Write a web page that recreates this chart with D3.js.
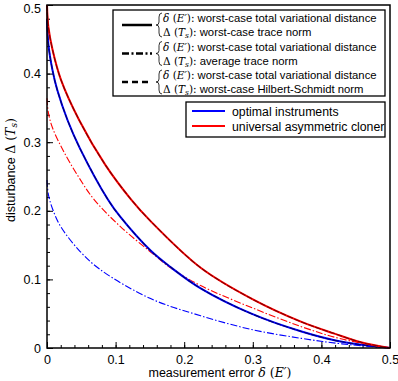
<!DOCTYPE html>
<html>
<head>
<meta charset="utf-8">
<script src="https://cdn.jsdelivr.net/npm/d3@7"></script>
<style>
  body { margin: 0; background: #fff; }
  text { font-family: "Liberation Sans", Arial, sans-serif; }
  .m { font-family: "DejaVu Serif", "Liberation Serif", serif; font-style: italic; }
  .mr { font-family: "DejaVu Serif", "Liberation Serif", serif; }
</style>
</head>
<body>
<div id="chart"></div>
<script>
const cloneSolidX = [0, 0.002, 0.008, 0.02, 0.047, 0.085, 0.123, 0.151, 0.224, 0.298, 0.371, 0.419, 0.459, 0.5]
const cloneSolidY = [0.5, 0.468, 0.435, 0.392, 0.332, 0.267, 0.216, 0.185, 0.117, 0.072, 0.038, 0.021, 0.008, 0]

const optSolidX = [0, 0.002, 0.008, 0.015, 0.030, 0.048, 0.089, 0.107, 0.151, 0.180, 0.224, 0.298, 0.371, 0.43, 0.5]
const optSolidY = [0.48, 0.443, 0.405, 0.376, 0.332, 0.291, 0.216, 0.191, 0.142, 0.118, 0.087, 0.05, 0.024, 0.009, 0]

const cloneAvgX = [0, 0.002, 0.008, 0.023, 0.045, 0.069, 0.107, 0.151, 0.18, 0.224, 0.298, 0.371, 0.43, 0.5]
const cloneAvgY = [0.364, 0.343, 0.321, 0.289, 0.251, 0.216, 0.177, 0.14, 0.117, 0.091, 0.059, 0.031, 0.013, 0]

const optAvgX = [0, 0.002, 0.008, 0.02, 0.048, 0.078, 0.151, 0.224, 0.298, 0.371, 0.43, 0.5]
const optAvgY = [0.245, 0.224, 0.203, 0.177, 0.141, 0.114, 0.072, 0.047, 0.027, 0.014, 0.006, 0]

const xTicks = [0, 0.1, 0.2, 0.3, 0.4, 0.5]
const yTicks = [0, 0.1, 0.2, 0.3, 0.4, 0.5]

const legendRows = [
  ["worst-case total variational distance", "worst-case trace norm"],
  ["worst-case total variational distance", "average trace norm"],
  ["worst-case total variational distance", "worst-case Hilbert-Schmidt norm"]
]
const legendDash = [null, "7,2.5,2,2.5", "6,4"]
const colorNames = ["optimal instruments", "universal asymmetric cloner"]
const colorList = ["#0000ff", "#ff0000"]

const W = 398, H = 381
const m = {left: 47, right: 8, top: 5, bottom: 33}

const svg = d3.select("#chart").append("svg")
  .attr("width", W).attr("height", H)

const x = d3.scaleLinear().domain([0, 0.5]).range([m.left, W - m.right])
const y = d3.scaleLinear().domain([0, 0.5]).range([H - m.bottom, m.top])

const fmt = d => d === 0 ? "0" : d3.format(".1f")(d)
const minor = d3.range(0, 0.5001, 0.02)

// minor ticks
svg.append("g")
  .attr("transform", `translate(0,${y(0)})`)
  .call(d3.axisBottom(x).tickValues(minor).tickSize(-3).tickFormat(""))
  .call(g => g.select(".domain").remove())
svg.append("g")
  .attr("transform", `translate(${x(0)},0)`)
  .call(d3.axisLeft(y).tickValues(minor).tickSize(-3).tickFormat(""))
  .call(g => g.select(".domain").remove())

// major ticks + labels
const xAx = svg.append("g")
  .attr("transform", `translate(0,${y(0)})`)
  .call(d3.axisBottom(x).tickValues(xTicks).tickSize(-6).tickPadding(7).tickFormat(fmt))
xAx.select(".domain").remove()
xAx.selectAll("text").attr("font-size", 12.5).attr("font-family", "Liberation Sans, Arial").attr("fill", "#000")

const yAx = svg.append("g")
  .attr("transform", `translate(${x(0)},0)`)
  .call(d3.axisLeft(y).tickValues(yTicks).tickSize(-6).tickPadding(6).tickFormat(fmt))
yAx.select(".domain").remove()
yAx.selectAll("text").attr("font-size", 12.5).attr("font-family", "Liberation Sans, Arial").attr("fill", "#000")
yAx.selectAll("text").filter(d => d === 0.5).attr("dy", "0.6em")

const line = d3.line().x(d => x(d[0])).y(d => y(d[1])).curve(d3.curveCatmullRom.alpha(0.5))
const pts = (a, b) => a.map((v, i) => [v, b[i]])

const plot = svg.append("g")

plot.append("path").attr("d", line(pts(optAvgX, optAvgY)))
  .attr("fill", "none").attr("stroke", "#0000ff").attr("stroke-width", 1.1)
  .attr("stroke-dasharray", "7,2,1.5,2")
plot.append("path").attr("d", line(pts(cloneAvgX, cloneAvgY)))
  .attr("fill", "none").attr("stroke", "#ff0000").attr("stroke-width", 1.1)
  .attr("stroke-dasharray", "7,2,1.5,2")

plot.append("path").attr("d", line(pts(optSolidX, optSolidY)))
  .attr("fill", "none").attr("stroke", "#0000ff").attr("stroke-width", 2)
plot.append("path").attr("d", line(pts(optSolidX, optSolidY)))
  .attr("fill", "none").attr("stroke", "#000070").attr("stroke-width", 1.1)
  .attr("stroke-dasharray", "6,1.5")

plot.append("path").attr("d", line(pts(cloneSolidX, cloneSolidY)))
  .attr("fill", "none").attr("stroke", "#ff0000").attr("stroke-width", 2)
plot.append("path").attr("d", line(pts(cloneSolidX, cloneSolidY)))
  .attr("fill", "none").attr("stroke", "#800000").attr("stroke-width", 1.1)
  .attr("stroke-dasharray", "6,1.5")

// frame
svg.append("rect")
  .attr("x", x(0)).attr("y", y(0.5))
  .attr("width", x(0.5) - x(0)).attr("height", y(0) - y(0.5))
  .attr("fill", "none").attr("stroke", "#000").attr("stroke-width", 1.5)

// legend 1
const lg = svg.append("g")
lg.append("rect").attr("x", 113).attr("y", 10).attr("width", 272).attr("height", 86)
  .attr("fill", "#fff").attr("stroke", "#000").attr("stroke-width", 1.3)

legendRows.forEach((r, i) => {
  const cy = 25 + i * 28.5
  lg.append("line").attr("x1", 122).attr("x2", 152).attr("y1", cy).attr("y2", cy)
    .attr("stroke", "#000").attr("stroke-width", 2.5)
    .attr("stroke-dasharray", legendDash[i])
  // brace
  const bx = 159
  lg.append("path")
    .attr("d", `M${bx + 3},${cy - 12} Q${bx},${cy - 12} ${bx},${cy - 8} L${bx},${cy - 3} Q${bx},${cy} ${bx - 3},${cy} Q${bx},${cy} ${bx},${cy + 3} L${bx},${cy + 8} Q${bx},${cy + 12} ${bx + 3},${cy + 12}`)
    .attr("fill", "none").attr("stroke", "#000").attr("stroke-width", 0.8)
  const t1 = lg.append("text").attr("x", 163).attr("y", cy - 3).attr("font-size", 11.3)
  t1.append("tspan").attr("class", "m").attr("font-size", 10.5).text("δ")
  t1.append("tspan").attr("class", "mr").attr("font-size", 10.5).text(" (")
  t1.append("tspan").attr("class", "m").attr("font-size", 10.5).text("E′")
  t1.append("tspan").attr("class", "mr").attr("font-size", 10.5).text("):")
  t1.append("tspan").text(" " + r[0])
  const t2 = lg.append("text").attr("x", 163).attr("y", cy + 11).attr("font-size", 11.3)
  t2.append("tspan").attr("class", "mr").attr("font-size", 10.5).text("Δ (")
  t2.append("tspan").attr("class", "m").attr("font-size", 10.5).text("T")
  t2.append("tspan").attr("class", "m").attr("font-size", 7.5).attr("dy", 2).text("s")
  t2.append("tspan").attr("class", "mr").attr("font-size", 10.5).attr("dy", -2).text("):")
  t2.append("tspan").text(" " + r[1])
})

// legend 2
const lg2 = svg.append("g")
lg2.append("rect").attr("x", 186).attr("y", 102).attr("width", 199).attr("height", 35)
  .attr("fill", "#fff").attr("stroke", "#000").attr("stroke-width", 1.3)
colorNames.forEach((n, i) => {
  const cy = 111 + i * 15
  lg2.append("line").attr("x1", 192).attr("x2", 225).attr("y1", cy).attr("y2", cy)
    .attr("stroke", colorList[i]).attr("stroke-width", 2)
  lg2.append("text").attr("x", 232).attr("y", cy + 4.5).attr("font-size", 12.3).text(n)
})

// axis titles
const xt = svg.append("text").attr("x", 220).attr("y", 377).attr("text-anchor", "middle").attr("font-size", 12.5)
xt.append("tspan").text("measurement error ")
xt.append("tspan").attr("class", "m").text("δ")
xt.append("tspan").attr("class", "mr").text(" (")
xt.append("tspan").attr("class", "m").text("E′")
xt.append("tspan").attr("class", "mr").text(")")

const yt = svg.append("text").attr("transform", "translate(15,170) rotate(-90)")
  .attr("text-anchor", "middle").attr("font-size", 12.5)
yt.append("tspan").text("disturbance ")
yt.append("tspan").attr("class", "mr").text("Δ (")
yt.append("tspan").attr("class", "m").text("T")
yt.append("tspan").attr("class", "m").attr("font-size", 9).attr("dy", 2).text("s")
yt.append("tspan").attr("class", "mr").attr("dy", -2).text(")")
</script>
</body>
</html>
